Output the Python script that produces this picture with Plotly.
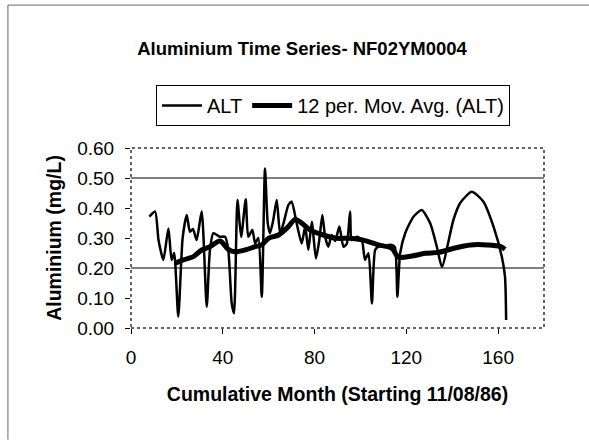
import plotly.graph_objects as go

# ---- data ----
alt_month = [8.0, 10.5, 12.0, 14.1, 16.3, 17.7, 18.8, 20.6, 22.5, 24.3, 25.7, 27.0, 28.6, 30.8,
             33.0, 34.4, 35.9, 38.8, 41.0, 42.4, 43.9, 44.9, 46.4, 48.0, 50.0, 51.1, 52.9, 54.1,
             55.5, 57.0, 58.4, 59.6, 60.6, 62.0, 63.5, 65.0, 66.5, 68.6, 70.0, 72.2, 74.4, 75.9,
             77.3, 78.8, 80.6, 82.0, 83.4, 84.6, 86.0, 87.5, 89.0, 90.8, 92.6, 94.0, 95.5, 96.2,
             98.4, 100.6, 102.0, 103.5, 105.0, 106.4, 107.8, 110.5, 113.6, 115.0, 116.1, 117.3,
             119.5, 123.1, 126.7, 130.4, 133.3, 135.5, 140.5, 143.4, 148.5, 153.6, 158.0, 161.6,
             163.0, 163.5]
alt_value = [0.371, 0.388, 0.293, 0.227, 0.332, 0.227, 0.250, 0.038, 0.300, 0.377, 0.321, 0.330,
             0.293, 0.388, 0.071, 0.260, 0.316, 0.304, 0.304, 0.260, 0.082, 0.049, 0.427, 0.304,
             0.429, 0.304, 0.327, 0.282, 0.300, 0.104, 0.532, 0.349, 0.316, 0.360, 0.427, 0.316,
             0.350, 0.410, 0.421, 0.349, 0.282, 0.338, 0.260, 0.354, 0.232, 0.290, 0.377, 0.304,
             0.271, 0.310, 0.290, 0.338, 0.271, 0.280, 0.388, 0.293, 0.304, 0.293, 0.227, 0.249,
             0.082, 0.260, 0.271, 0.275, 0.277, 0.270, 0.104, 0.249, 0.316, 0.371, 0.393, 0.349,
             0.271, 0.204, 0.360, 0.416, 0.454, 0.421, 0.338, 0.238, 0.171, 0.027]

ma_month = [19.2, 22.8, 27.2, 30.8, 34.4, 38.8, 42.4, 45.3, 49.7, 54.1, 57.0, 59.9, 64.3, 68.6,
            71.5, 73.7, 78.0, 83.8, 89.7, 95.5, 101.3, 107.8, 113.6, 116.6, 122.4, 128.2, 134.0,
            140.7, 148.0, 155.3, 161.0, 163.0]
ma_value = [0.216, 0.227, 0.238, 0.260, 0.271, 0.290, 0.262, 0.254, 0.260, 0.271, 0.277, 0.299,
            0.310, 0.338, 0.362, 0.354, 0.327, 0.310, 0.299, 0.299, 0.293, 0.277, 0.266, 0.236,
            0.240, 0.249, 0.252, 0.266, 0.277, 0.277, 0.272, 0.262]

x_ticks = [0, 40, 80, 120, 160]
y_ticks = [0.0, 0.1, 0.2, 0.3, 0.4, 0.5, 0.6]
grid_levels = [0.2, 0.5]

FONT = "Liberation Sans, Arial, sans-serif"

fig = go.Figure()
fig.add_trace(go.Scatter(x=alt_month, y=alt_value, mode="lines", name="ALT",
                         line=dict(color="black", width=2.5, shape="spline", smoothing=0.6)))
fig.add_trace(go.Scatter(x=ma_month, y=ma_value, mode="lines", name="12 per. Mov. Avg. (ALT)",
                         line=dict(color="black", width=5, shape="spline", smoothing=0.8)))

for g in grid_levels:
    fig.add_hline(y=g, line=dict(color="black", width=1), layer="below")

# plot area dotted border
fig.add_shape(type="rect", xref="paper", yref="paper", x0=0, x1=1, y0=0, y1=1,
              line=dict(color="#333", width=1.5, dash="dot"))
# outer frame lines (top and left)
fig.add_shape(type="line", xref="paper", yref="paper", x0=-0.298, x1=1.109, y0=1.794, y1=1.794,
              line=dict(color="#666", width=1))
fig.add_shape(type="line", xref="paper", yref="paper", x0=-0.298, x1=-0.298, y0=1.794, y1=-0.62,
              line=dict(color="#666", width=1))

fig.update_layout(
    width=589, height=441,
    margin=dict(l=131, r=45, t=148, b=113),
    paper_bgcolor="white", plot_bgcolor="white",
    font=dict(family=FONT, color="black", size=19),
    title=dict(text="<b>Aluminium Time Series- NF02YM0004</b>", x=302/589, xanchor="center",
               y=1 - 49/441, yanchor="middle", yref="container",
               font=dict(size=18.5, family=FONT, color="black")),
    legend=dict(orientation="h", x=0.489, xanchor="center", y=1.35, yanchor="top",
                bordercolor="black", borderwidth=1, bgcolor="white",
                font=dict(size=20, family=FONT), itemwidth=40, tracegroupgap=0),
    showlegend=True,
)
fig.update_xaxes(range=[0, 180], tickvals=x_ticks, ticks="outside", ticklen=5, tickcolor="black",
                 showgrid=False, zeroline=False, showline=False, ticklabelstandoff=7,
                 tickfont=dict(size=19, family=FONT),
                 title=dict(text="<b>Cumulative Month (Starting 11/08/86)</b>", standoff=20,
                            font=dict(size=19.5, family=FONT)))
fig.update_yaxes(range=[0, 0.6], tickvals=y_ticks, tickformat=".2f", ticks="outside", ticklen=5,
                 tickcolor="black", showgrid=False, zeroline=False, showline=False,
                 ticklabelstandoff=7,
                 tickfont=dict(size=19, family=FONT),
                 title=dict(text="<b>Aluminium (mg/L)</b>", standoff=10,
                            font=dict(size=19.5, family=FONT)))

fig.write_html("out.html", config={"displayModeBar": False},
               post_script="document.body.style.margin='0';")
